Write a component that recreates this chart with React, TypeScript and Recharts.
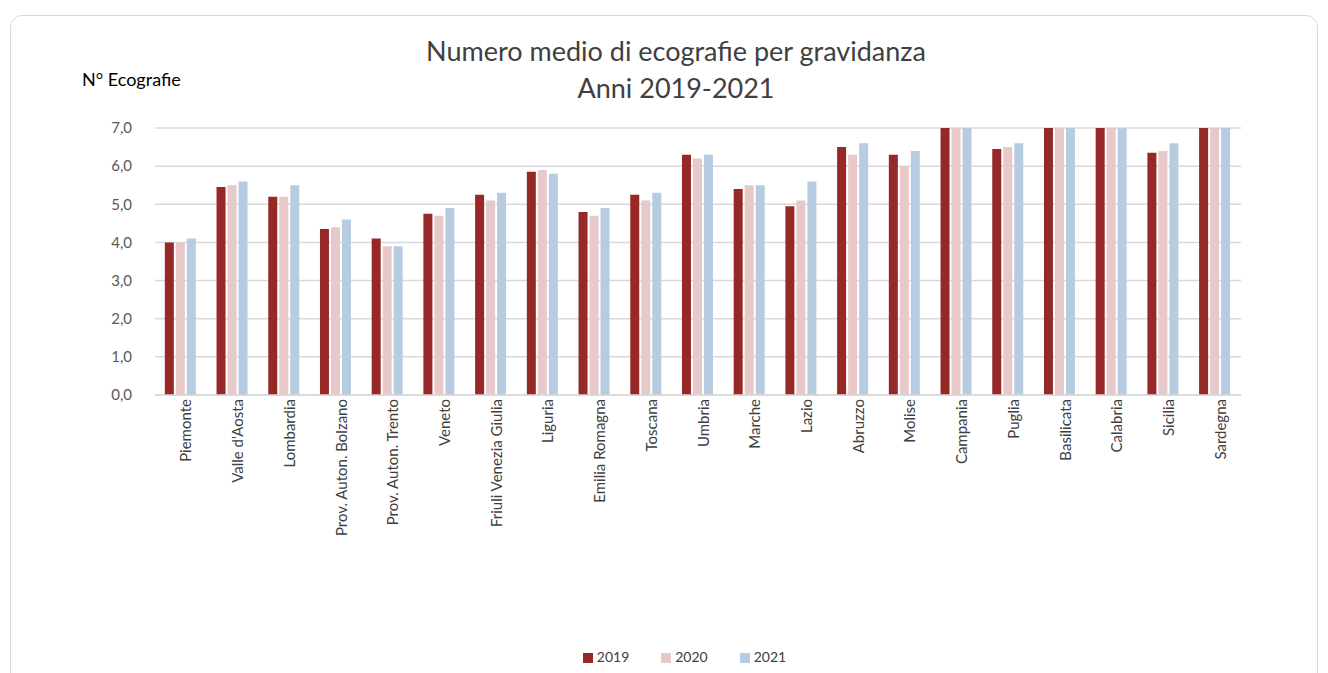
import { Bar, BarChart, CartesianGrid, Legend, XAxis, YAxis } from "recharts"

const regioni = [
  "Piemonte",
  "Valle d'Aosta",
  "Lombardia",
  "Prov. Auton. Bolzano",
  "Prov. Auton. Trento",
  "Veneto",
  "Friuli Venezia Giulia",
  "Liguria",
  "Emilia Romagna",
  "Toscana",
  "Umbria",
  "Marche",
  "Lazio",
  "Abruzzo",
  "Molise",
  "Campania",
  "Puglia",
  "Basilicata",
  "Calabria",
  "Sicilia",
  "Sardegna",
]

// bars above 7,0 are cut off at the top of the axis in the original
const anno2019 = [4.0, 5.45, 5.2, 4.35, 4.1, 4.75, 5.25, 5.85, 4.8, 5.25, 6.3, 5.4, 4.95, 6.5, 6.3, 7.4, 6.45, 7.6, 7.5, 6.35, 7.3]
const anno2020 = [4.0, 5.5, 5.2, 4.4, 3.9, 4.7, 5.1, 5.9, 4.7, 5.1, 6.2, 5.5, 5.1, 6.3, 6.0, 7.5, 6.5, 7.7, 7.6, 6.4, 7.4]
const anno2021 = [4.1, 5.6, 5.5, 4.6, 3.9, 4.9, 5.3, 5.8, 4.9, 5.3, 6.3, 5.5, 5.6, 6.6, 6.4, 7.6, 6.6, 7.8, 7.7, 6.6, 7.5]

const yTicks = [0, 1, 2, 3, 4, 5, 6, 7]

const data = regioni.map((name, i) => ({
  name,
  "2019": anno2019[i],
  "2020": anno2020[i],
  "2021": anno2021[i],
}))

const font = "Lato, 'Open Sans', sans-serif"

export default function App() {
  return (
    <div style={{ position: "absolute", left: 0, top: 0, width: 1328, height: 673, background: "#fff", fontFamily: font }}>
      <div
        style={{
          position: "absolute",
          left: 10,
          top: 15,
          width: 1306,
          height: 680,
          border: "1px solid #d9d9d9",
          borderRadius: 12,
        }}
      />
      <div style={{ position: "absolute", left: 12, width: 1328, top: 32, textAlign: "center", fontSize: 27, color: "#404040", lineHeight: "37px" }}>
        <div>Numero medio di ecografie per gravidanza</div>
        <div>Anni 2019-2021</div>
      </div>
      <div style={{ position: "absolute", left: 82, top: 68, fontSize: 18, color: "#000" }}>N° Ecografie</div>
      <BarChart
        width={1328}
        height={673}
        data={data}
        margin={{ top: 128, right: 87, bottom: 8, left: 0 }}
        barCategoryGap="19%"
        barGap={2}
        style={{ position: "absolute", left: 0, top: 0 }}
      >
        <CartesianGrid vertical={false} stroke="#d9d9d9" strokeWidth={1.5} />
        <XAxis
          dataKey="name"
          interval={0}
          angle={-90}
          textAnchor="end"
          height={253}
          tickLine={false}
          axisLine={{ stroke: "#d9d9d9", strokeWidth: 1.5 }}
          tick={{ fontSize: 15, fill: "#404040", fontFamily: font, dy: -4 }}
        />
        <YAxis
          domain={[0, 7]}
          ticks={yTicks}
          allowDataOverflow
          width={155}
          tickLine={false}
          axisLine={false}
          tickMargin={17}
          tick={{ fontSize: 15, fill: "#595959", fontFamily: font }}
          tickFormatter={(v) => v.toFixed(1).replace(".", ",")}
        />
        <Legend
          verticalAlign="bottom"
          iconType="square"
          iconSize={10}
          wrapperStyle={{ fontSize: 14, color: "#404040", left: 80 }}
          formatter={(value) => <span style={{ color: "#404040", marginRight: 22 }}>{value}</span>}
        />
        <Bar dataKey="2019" fill="#962828" isAnimationActive={false} />
        <Bar dataKey="2020" fill="#e8c9ca" isAnimationActive={false} />
        <Bar dataKey="2021" fill="#b7cce1" isAnimationActive={false} />
      </BarChart>
    </div>
  )
}
